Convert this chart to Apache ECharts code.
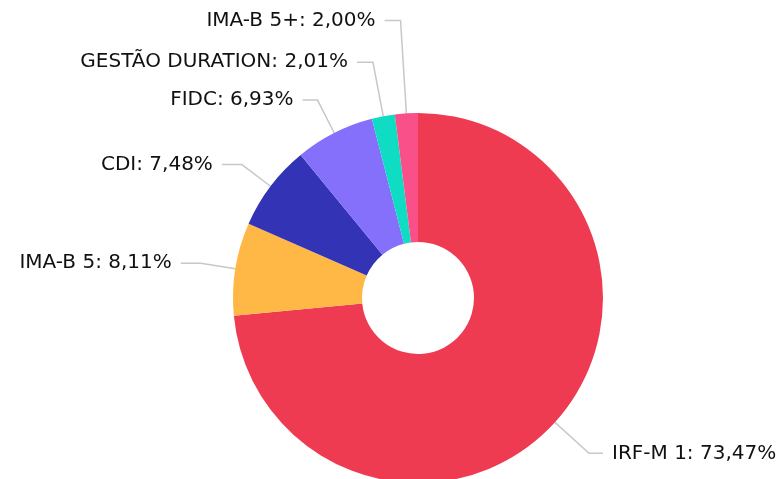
<!DOCTYPE html>
<html><head><meta charset="utf-8">
<script src="https://cdn.jsdelivr.net/npm/echarts@6/dist/echarts.min.js"></script>
<style>html,body{margin:0;padding:0;background:#fff}#c{width:780px;height:479px}</style>
</head><body><div id="c"></div>
<script>
const categories = ['IRF-M 1', 'IMA-B 5', 'CDI', 'FIDC', 'GESTÃO DURATION', 'IMA-B 5+'];
const values = [73.47, 8.11, 7.48, 6.93, 2.01, 2.00];

// styling (kept apart from the data)
const colors = ['#EE3B52', '#FFB845', '#3333B5', '#8470FA', '#0EDDC4', '#F9508A'];
const lineLen1 = [46, 35, 36, 37, 55, 93];
const lineLen2 = [14, 20, 20, 15, 16, 16];

const chart = echarts.init(document.getElementById('c'), null, {renderer: 'canvas'});
chart.setOption({
  animation: false,
  series: [{
    type: 'pie',
    center: [418, 298],
    radius: [56, 185],
    startAngle: 90,
    clockwise: true,
    avoidLabelOverlap: false,
    data: categories.map((n, i) => ({
      name: n, value: values[i],
      itemStyle: {color: colors[i]},
      labelLine: {length: lineLen1[i], length2: lineLen2[i]}
    })),
    label: {
      show: true,
      fontFamily: 'DejaVu Sans',
      fontSize: 20,
      color: '#111111',
      distanceToLabelLine: 9,
      formatter: p => p.name + ': ' + p.value.toFixed(2).replace('.', ',') + '%'
    },
    labelLine: {show: true, lineStyle: {color: '#c8c8c8', width: 1.5}},
    emphasis: {disabled: true}
  }]
});
</script></body></html>
